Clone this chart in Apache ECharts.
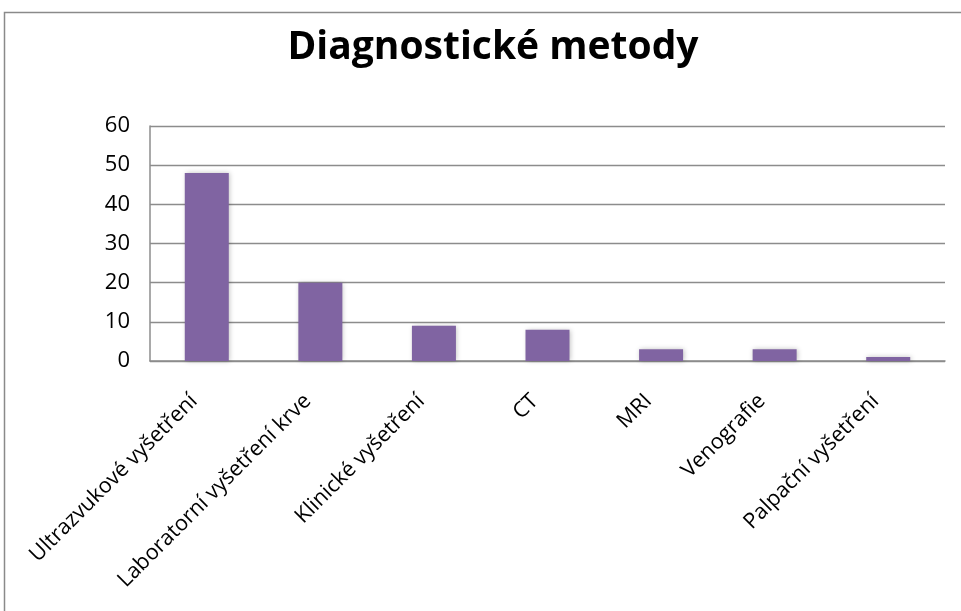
<!DOCTYPE html>
<html>
<head>
<meta charset="utf-8">
<script src="https://cdn.jsdelivr.net/npm/echarts@6/dist/echarts.min.js"></script>
<style>
  html, body { margin: 0; padding: 0; background: #fff; }
  #chart { width: 961px; height: 611px; }
</style>
</head>
<body>
<div id="chart"></div>
<script>
// Diagnostic methods and how often each was used
const categories = [
  'Ultrazvukové vyšetření',
  'Laboratorní vyšetření krve',
  'Klinické vyšetření',
  'CT',
  'MRI',
  'Venografie',
  'Palpační vyšetření'
];
const counts = [48, 20, 9, 8, 3, 3, 1];
const yTicks = { min: 0, max: 60, interval: 10 };

const FONT = '"Open Sans", Lato, sans-serif';
const chart = echarts.init(document.getElementById('chart'));

chart.setOption({
  animation: false,
  backgroundColor: '#ffffff',
  title: {
    text: 'Diagnostické metody',
    left: 488,
    textAlign: 'center',
    top: 23,
    textStyle: { fontFamily: FONT, fontSize: 39, fontWeight: 'bold', color: '#000' }
  },
  graphic: [{
    type: 'rect',
    shape: { x: 4.5, y: 12.5, width: 1000, height: 700 },
    style: { fill: 'none', stroke: '#8a8a8a', lineWidth: 1.5 },
    silent: true
  }],
  grid: { left: 150, right: 16, top: 126, bottom: 250 },
  xAxis: {
    type: 'category',
    data: categories,
    axisLine: { lineStyle: { color: '#8c8c8c', width: 1.5 } },
    axisTick: { show: false },
    axisLabel: {
      rotate: 45,
      interval: 0,
      margin: 24,
      padding: [0, 18, 0, 0],
      fontFamily: FONT,
      fontSize: 21.5,
      color: '#000'
    }
  },
  yAxis: {
    type: 'value',
    min: yTicks.min,
    max: yTicks.max,
    interval: yTicks.interval,
    axisLine: { show: true, lineStyle: { color: '#8c8c8c', width: 1.5 } },
    axisTick: { show: false },
    splitLine: { lineStyle: { color: '#8c8c8c', width: 1.3 } },
    axisLabel: { margin: 20, fontFamily: FONT, fontSize: 22, color: '#000' }
  },
  series: [{
    type: 'bar',
    data: counts,
    barWidth: 44,
    itemStyle: {
      color: '#8064a2',
      shadowColor: 'rgba(0,0,0,0.25)',
      shadowBlur: 5,
      shadowOffsetX: 1,
      shadowOffsetY: 0
    }
  }]
});
</script>
</body>
</html>
